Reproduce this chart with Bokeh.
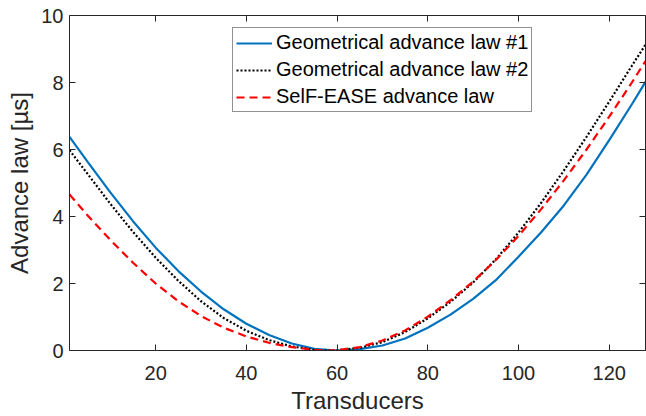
from bokeh.plotting import figure
from bokeh.models import LinearAxis, Range1d, Legend, LegendItem, FixedTicker
from bokeh.embed import file_html
from bokeh.resources import INLINE

# Transducer indices where values were read
x_law1 = [1, 5, 10, 15, 20, 25, 30, 35, 40, 45, 50, 55, 60, 65, 70, 75, 80, 85, 90, 95, 100, 105, 110, 115, 120, 125, 128]
y_law1 = [6.38, 5.63, 4.72, 3.86, 3.07, 2.37, 1.76, 1.23, 0.80, 0.46, 0.21, 0.05, 0.0, 0.04, 0.15, 0.36, 0.68, 1.07, 1.54, 2.10, 2.80, 3.53, 4.33, 5.25, 6.28, 7.35, 8.02]

x_law2 = [1, 5, 10, 15, 20, 25, 30, 35, 40, 45, 50, 55, 58, 60, 65, 70, 75, 80, 85, 90, 95, 100, 105, 110, 115, 120, 125, 128]
y_law2 = [5.98, 5.27, 4.38, 3.54, 2.77, 2.08, 1.47, 0.97, 0.59, 0.31, 0.12, 0.02, 0.0, 0.01, 0.08, 0.25, 0.55, 0.96, 1.45, 2.03, 2.72, 3.52, 4.41, 5.37, 6.38, 7.43, 8.50, 9.13]

x_self = [1, 5, 10, 15, 20, 25, 30, 35, 40, 45, 50, 55, 58, 60, 65, 70, 75, 80, 85, 90, 95, 100, 105, 110, 115, 120, 125, 128]
y_self = [4.66, 4.03, 3.30, 2.62, 2.00, 1.47, 1.03, 0.68, 0.42, 0.23, 0.10, 0.02, 0.0, 0.01, 0.10, 0.30, 0.60, 1.01, 1.50, 2.06, 2.70, 3.42, 4.22, 5.08, 6.00, 6.98, 8.00, 8.64]

x_ticks = [20, 40, 60, 80, 100, 120]
y_ticks = [0, 2, 4, 6, 8, 10]

labels = ["Geometrical advance law #1", "Geometrical advance law #2", "SelF-EASE advance law"]

FONT = "Liberation Sans"
AX = "#262626"

p = figure(width=646, height=416, output_backend="svg", toolbar_location=None,
           x_range=Range1d(1, 128), y_range=Range1d(0, 10),
           min_border_left=69, min_border_right=1, min_border_top=15, min_border_bottom=66)
p.outline_line_color = None
p.xgrid.grid_line_color = None
p.ygrid.grid_line_color = None
p.background_fill_color = "white"

r1 = p.line(x_law1, y_law1, line_color="#0072BD", line_width=2.2)
r2 = p.line(x_law2, y_law2, line_color="black", line_width=2.2, line_dash="2 2")
r3 = p.line(x_self, y_self, line_color="#FF0000", line_width=2.2, line_dash="8 5")

def style(ax, show_labels=True):
    ax.axis_line_color = AX
    ax.axis_line_width = 1
    ax.major_tick_line_color = AX
    ax.major_tick_in = 6
    ax.major_tick_out = 0
    ax.minor_tick_line_color = None
    ax.major_label_text_font = FONT
    ax.major_label_text_font_size = "20px"
    ax.major_label_text_color = AX
    if not show_labels:
        ax.major_label_text_font_size = "0px"
        ax.major_label_text_color = None

xa = p.xaxis[0]
style(xa)
xa.ticker = FixedTicker(ticks=x_ticks)
xa.major_label_standoff = 15
xa.axis_label = "Transducers"
xa.axis_label_text_font = FONT
xa.axis_label_text_font_size = "24px"
xa.axis_label_text_font_style = "normal"
xa.axis_label_text_color = AX
xa.axis_label_standoff = 4

ya = p.yaxis[0]
style(ya)
ya.ticker = FixedTicker(ticks=y_ticks)
ya.major_label_standoff = 6
ya.axis_label = "Advance law [µs]"
ya.axis_label_text_font = FONT
ya.axis_label_text_font_size = "24px"
ya.axis_label_text_font_style = "normal"
ya.axis_label_text_color = AX
ya.axis_label_standoff = 5

top = LinearAxis(ticker=FixedTicker(ticks=x_ticks))
style(top, False)
top.major_label_standoff = 0
p.add_layout(top, "above")
right = LinearAxis(ticker=FixedTicker(ticks=y_ticks))
style(right, False)
right.major_label_standoff = 0
p.add_layout(right, "right")

legend = Legend(items=[LegendItem(label=labels[0], renderers=[r1]),
                       LegendItem(label=labels[1], renderers=[r2]),
                       LegendItem(label=labels[2], renderers=[r3])],
                location=(163, 238))
legend.label_text_font = FONT
legend.label_text_font_size = "20px"
legend.label_text_color = "black"
legend.glyph_width = 36
legend.glyph_height = 22
legend.label_height = 22
legend.spacing = 4
legend.padding = 3
legend.margin = 0
legend.label_standoff = 4
legend.border_line_color = AX
legend.border_line_width = 1
legend.background_fill_color = "white"
legend.background_fill_alpha = 1
p.add_layout(legend, "center")

open("out.html", "w").write(file_html(p, INLINE))
